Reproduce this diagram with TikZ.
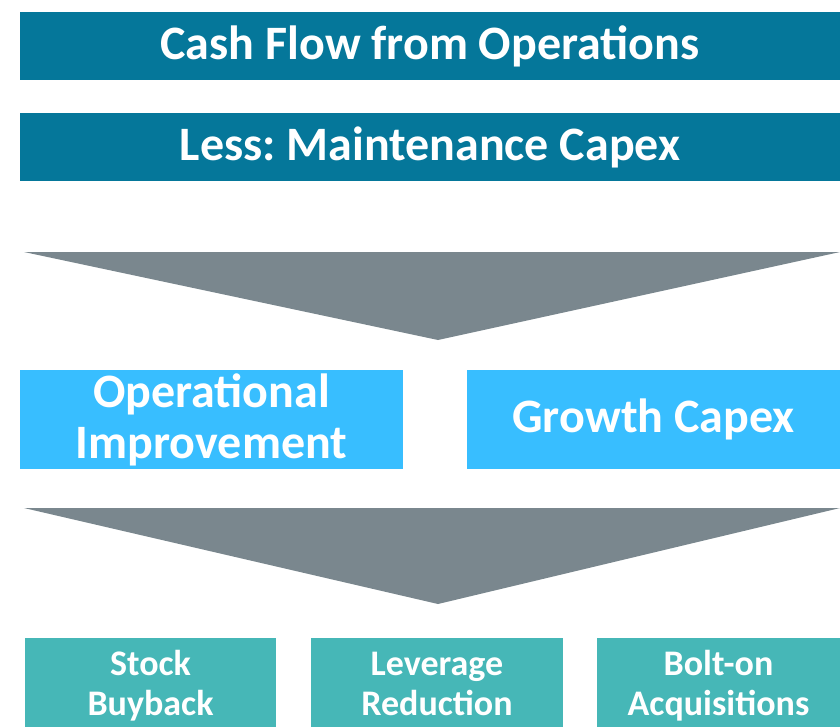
\documentclass[tikz,border=0pt]{standalone}
\usepackage{fontspec}
\setmainfont{Carlito}
\definecolor{darkteal}{HTML}{05779A}
\definecolor{arrowgray}{HTML}{7A878E}
\definecolor{skyblue}{HTML}{38BEFF}
\definecolor{tealbox}{HTML}{46B7B7}
\frenchspacing
\begin{document}
\begin{tikzpicture}[x=1pt,y=-1pt,
  box/.style={anchor=north west,inner sep=0pt,outer sep=0pt,text=white,font=\bfseries,align=center},
  topbox/.style={box,fill=darkteal,minimum width=820pt,minimum height=68pt,font=\bfseries\fontsize{48}{52}\selectfont},
  midbox/.style={box,fill=skyblue,minimum height=99pt,font=\bfseries\fontsize{48}{51}\selectfont},
  lowbox/.style={box,fill=tealbox,minimum height=98pt,font=\bfseries\fontsize{36}{40}\selectfont},
  bigarrow/.style={fill=arrowgray}]
\useasboundingbox (0,0) rectangle (840,726);
\node[topbox] (cfo) at (20,12) {Cash Flow from Operations};
\node[topbox] (maint) at (20,113) {Less: Maintenance Capex};
\coordinate (a1l) at (24,252);
\coordinate (a1r) at (840,252);
\coordinate (a1t) at (438,340);
\fill[bigarrow] (a1l) -- (a1r) -- (a1t) -- cycle;
\node[midbox,minimum width=383pt] (op) at (20,370) {Operational\\Improvement};
\node[midbox,minimum width=373pt] (gc) at (467,370) {Growth Capex};
\coordinate (a2l) at (24,508);
\coordinate (a2r) at (840,508);
\coordinate (a2t) at (438,604);
\fill[bigarrow] (a2l) -- (a2r) -- (a2t) -- cycle;
\node[lowbox,minimum width=251pt] (sb) at (25,638) {Stock\strut\\Buyback\strut};
\node[lowbox,minimum width=252pt] (lr) at (311,638) {Leverage\strut\\Reduction\strut};
\node[lowbox,minimum width=243pt] (ba) at (597,638) {Bolt-on\strut\\Acquisitions\strut};
\end{tikzpicture}
\end{document}
